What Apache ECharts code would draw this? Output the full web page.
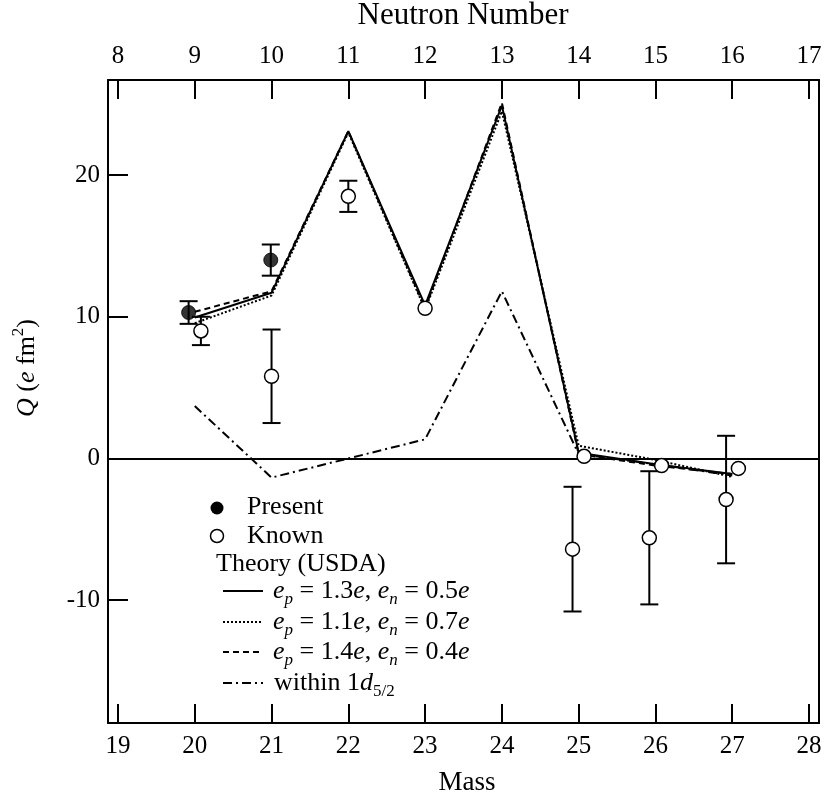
<!DOCTYPE html>
<html><head><meta charset="utf-8">
<script src="https://cdn.jsdelivr.net/npm/echarts@6/dist/echarts.min.js"></script>
<style>html,body{margin:0;padding:0;background:#fff}#c{width:825px;height:803px}</style>
</head><body><div id="c"></div>
<script>
// ---- data ----
const massTicks = [19, 20, 21, 22, 23, 24, 25, 26, 27, 28];
const neutronTicks = [8, 9, 10, 11, 12, 13, 14, 15, 16, 17];
const qTicks = [-10, 0, 10, 20];

const theoryMass = [20, 21, 22, 23, 24, 25, 26, 27];
const theoryA = [9.95, 11.7, 23.1, 10.8, 24.9, 0.4, -0.4, -1.1];   // ep=1.3e, en=0.5e (solid)
const theoryB = [9.55, 11.5, 23.0, 10.5, 24.5, 0.9, -0.1, -1.3];   // ep=1.1e, en=0.7e (dotted)
const theoryC = [10.35, 11.8, 23.1, 10.6, 25.1, 0.3, -0.5, -1.1];  // ep=1.4e, en=0.4e (dashed)
const theoryD = [3.7, -1.35, 0.0, 1.35, 11.8, 0.3, -0.4, -1.2];    // within 1d5/2 (dash-dot)

const presentMass = [19.92, 20.99];
const presentQ = [10.3, 14.0];
const presentErr = [0.8, 1.1];

const knownMass = [20.08, 21.0, 22.0, 23.0, 24.92, 25.07, 25.92, 26.08, 26.92, 27.08];
const knownQ = [9.0, 5.8, 18.5, 10.6, -6.4, 0.15, -5.6, -0.5, -2.9, -0.7];
const knownErr = [1.0, 3.3, 1.1, 0, 4.4, 0, 4.7, 0, 4.5, 0];

// ---- build ----
const FONT = "'Liberation Serif', 'Times New Roman', serif";
const xMin = 18.87, xMax = 28.13, yMin = -18.67, yMax = 26.71, nOff = 11;

const zip = (a, b) => a.map((v, i) => [v, b[i]]);
const zip3 = (a, b, c) => a.map((v, i) => [v, b[i], c[i]]);

function errRender(params, api) {
  const x = api.value(0), y = api.value(1), e = api.value(2);
  if (!e) return { type: 'group', children: [] };
  const top = api.coord([x, y + e]), bot = api.coord([x, y - e]);
  const hw = 9;
  const style = { stroke: '#000', lineWidth: 2 };
  return { type: 'group', children: [
    { type: 'line', shape: { x1: top[0], y1: top[1], x2: bot[0], y2: bot[1] }, style },
    { type: 'line', shape: { x1: top[0] - hw, y1: top[1], x2: top[0] + hw, y2: top[1] }, style },
    { type: 'line', shape: { x1: bot[0] - hw, y1: bot[1], x2: bot[0] + hw, y2: bot[1] }, style }
  ]};
}

const lineSeries = (name, vals, type) => ({
  name, type: 'line', data: zip(theoryMass, vals), symbol: 'none', z: 3,
  lineStyle: { color: '#000', width: 2, type }, silent: true
});

const rich = {
  n: { fontFamily: FONT, fontSize: 26, fill: '#000', color: '#000', lineHeight: 34, verticalAlign: 'middle' },
  i: { fontFamily: FONT, fontSize: 26, fontStyle: 'italic', fill: '#000', color: '#000', lineHeight: 34, verticalAlign: 'middle' },
  sub: { fontFamily: FONT, fontSize: 17, fontStyle: 'italic', fill: '#000', color: '#000', lineHeight: 34, verticalAlign: 'bottom' },
  subn: { fontFamily: FONT, fontSize: 17, fill: '#000', color: '#000', lineHeight: 34, verticalAlign: 'bottom' },
  sup: { fontFamily: FONT, fontSize: 17, fill: '#000', color: '#000', lineHeight: 34, verticalAlign: 'top' }
};

const txt = (x, y, text, extra) => ({ type: 'text', x, y, silent: true,
  style: Object.assign({ text, fill: '#000', font: '26px ' + FONT, align: 'left', verticalAlign: 'middle', rich }, extra || {}) });
const seg = (y, dash) => ({ type: 'line', silent: true, shape: { x1: 223, y1: y, x2: 263, y2: y },
  style: { stroke: '#000', lineWidth: 2, lineDash: dash } });

const option = {
  animation: false,
  backgroundColor: '#fff',
  grid: { left: 108, right: 6, top: 80, bottom: 80 },
  xAxis: [
    { type: 'value', position: 'bottom', min: xMin, max: xMax,
      axisLine: { show: true, onZero: false, lineStyle: { color: '#000', width: 2 } },
      axisTick: { show: true, inside: true, length: 19, customValues: massTicks, lineStyle: { color: '#000', width: 2 } },
      axisLabel: { show: true, customValues: massTicks, margin: 11, color: '#000', fontFamily: FONT, fontSize: 25 },
      splitLine: { show: false } },
    { type: 'value', position: 'top', min: xMin - nOff, max: xMax - nOff,
      axisLine: { show: true, onZero: false, lineStyle: { color: '#000', width: 2 } },
      axisTick: { show: true, inside: true, length: 19, customValues: neutronTicks, lineStyle: { color: '#000', width: 2 } },
      axisLabel: { show: true, customValues: neutronTicks, margin: 11, color: '#000', fontFamily: FONT, fontSize: 25 },
      splitLine: { show: false } }
  ],
  yAxis: [
    { type: 'value', position: 'left', min: yMin, max: yMax,
      axisLine: { show: true, onZero: false, lineStyle: { color: '#000', width: 2 } },
      axisTick: { show: true, inside: true, length: 20, customValues: qTicks, lineStyle: { color: '#000', width: 2 } },
      axisLabel: { show: true, customValues: qTicks, margin: 8, color: '#000', fontFamily: FONT, fontSize: 25 },
      splitLine: { show: false } },
    { type: 'value', position: 'right', min: yMin, max: yMax,
      axisLine: { show: true, onZero: false, lineStyle: { color: '#000', width: 2 } },
      axisTick: { show: false }, axisLabel: { show: false }, splitLine: { show: false } }
  ],
  series: [
    Object.assign(lineSeries('ep=1.3e, en=0.5e', theoryA, 'solid'), {
      markLine: { silent: true, symbol: 'none', label: { show: false },
        lineStyle: { color: '#000', width: 1.8, type: 'solid' }, data: [{ yAxis: 0 }] } }),
    lineSeries('ep=1.1e, en=0.7e', theoryB, [2, 2]),
    lineSeries('ep=1.4e, en=0.4e', theoryC, [6, 4]),
    lineSeries('within 1d5/2', theoryD, [9, 4, 2, 4]),
    { name: 'presentErr', type: 'custom', renderItem: errRender, z: 4, silent: true,
      encode: { x: 0, y: 1 }, data: zip3(presentMass, presentQ, presentErr) },
    { name: 'knownErr', type: 'custom', renderItem: errRender, z: 4, silent: true,
      encode: { x: 0, y: 1 }, data: zip3(knownMass, knownQ, knownErr) },
    { name: 'Present', type: 'scatter', data: zip(presentMass, presentQ), symbol: 'circle', symbolSize: 14, z: 6, silent: true,
      itemStyle: { color: '#000', borderColor: '#000', borderWidth: 1 } },
    { name: 'Known', type: 'scatter', data: zip(knownMass, knownQ), symbol: 'circle', symbolSize: 14, z: 6, silent: true,
      itemStyle: { color: '#fff', borderColor: '#000', borderWidth: 1.5, opacity: 1 } }
  ],
  graphic: [
    { type: 'circle', silent: true, shape: { cx: 217, cy: 508, r: 6.5 }, style: { fill: '#000' } },
    { type: 'circle', silent: true, shape: { cx: 217, cy: 536, r: 6.5 }, style: { fill: '#fff', stroke: '#000', lineWidth: 1.5 } },
    txt(247, 507, 'Present'),
    txt(247, 536, 'Known'),
    txt(216, 564, 'Theory (USDA)'),
    seg(591, null),
    seg(622, [2, 2]),
    seg(652, [6, 4]),
    seg(683, [9, 4, 2, 4]),
    txt(273, 591, '{i|e}{sub|p}{n| = 1.3}{i|e}{n|, }{i|e}{sub|n}{n| = 0.5}{i|e}'),
    txt(273, 622, '{i|e}{sub|p}{n| = 1.1}{i|e}{n|, }{i|e}{sub|n}{n| = 0.7}{i|e}'),
    txt(273, 652, '{i|e}{sub|p}{n| = 1.4}{i|e}{n|, }{i|e}{sub|n}{n| = 0.4}{i|e}'),
    txt(274, 683, '{n|within 1}{i|d}{subn|5/2}'),
    txt(463, 16, 'Neutron Number', { align: 'center', font: '31px ' + FONT }),
    txt(467, 783, 'Mass', { align: 'center', font: '27px ' + FONT }),
    { type: 'text', x: 27, y: 368, rotation: Math.PI / 2, silent: true,
      style: { text: '{i|Q}{n| (}{i|e}{n| fm}{sup|2}{n|)}', rich, align: 'center', verticalAlign: 'middle', fill: '#000', font: '26px ' + FONT } }
  ]
};

const chart = echarts.init(document.getElementById('c'), null, { renderer: 'canvas' });
chart.setOption(option);
</script>
</body></html>
